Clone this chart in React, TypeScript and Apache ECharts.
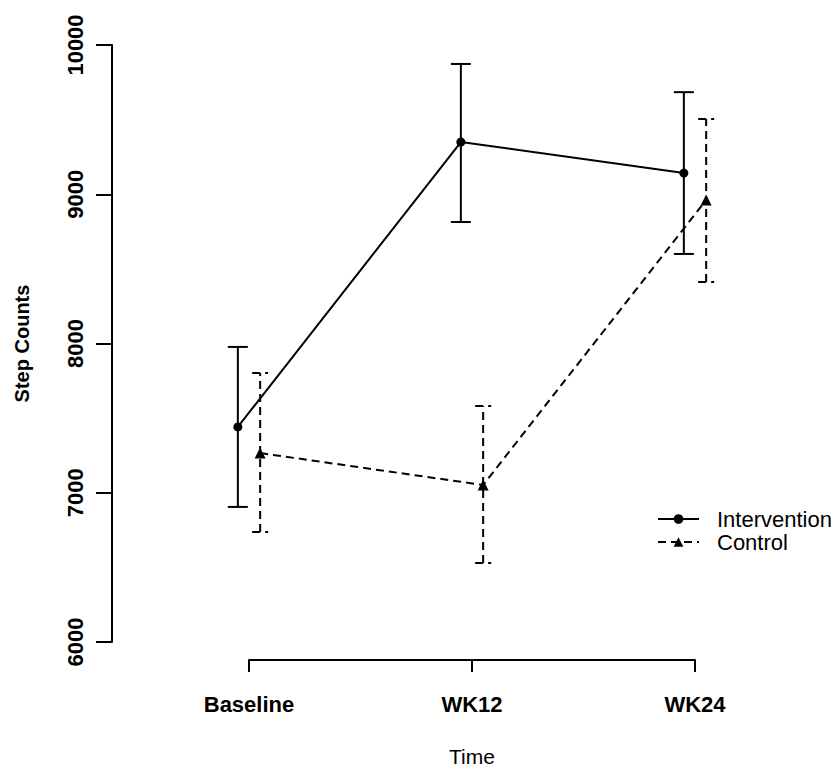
import React, { useEffect, useRef } from "react";
import * as echarts from "echarts";

const categories = ["Baseline", "WK12", "WK24"];
const interventionMean = [7441, 9350, 9142];
const interventionLower = [6905, 8814, 8600];
const interventionUpper = [7977, 9873, 9684];
const controlMean = [7266, 7052, 8961];
const controlLower = [6737, 6529, 8412];
const controlUpper = [7802, 7581, 9504];
const yTicks = { min: 6000, max: 10000, interval: 1000 };
const dodge = 0.05;

const FONT = "'Liberation Sans', Arial, sans-serif";

function errorBarSeries(name: string, pos: number[], lo: number[], hi: number[], capW: number, dash: number[] | null) {
  return {
    type: "custom",
    name,
    xAxisIndex: 0,
    yAxisIndex: 0,
    silent: true,
    encode: { x: 0, y: [1, 2] },
    data: pos.map((p, i) => [p, lo[i], hi[i]]),
    renderItem: (params: any, api: any) => {
      const x = api.value(0);
      const a = api.coord([x, api.value(1)]);
      const b = api.coord([x, api.value(2)]);
      const style: any = { stroke: "#000", lineWidth: 2, fill: "none" };
      if (dash) style.lineDash = dash;
      const h = capW / 2;
      return {
        type: "group",
        children: [
          { type: "line", shape: { x1: a[0], y1: a[1], x2: b[0], y2: b[1] }, style },
          { type: "line", shape: { x1: a[0] - h, y1: a[1], x2: a[0] + h, y2: a[1] }, style },
          { type: "line", shape: { x1: b[0] - h, y1: b[1], x2: b[0] + h, y2: b[1] }, style },
        ],
      };
    },
  };
}

export default function App() {
  const ref = useRef<HTMLDivElement>(null);
  useEffect(() => {
    if (!ref.current) return;
    const chart = echarts.init(ref.current, null, { renderer: "svg" });
    const posI = categories.map((_, i) => i + 1 - dodge);
    const posC = categories.map((_, i) => i + 1 + dodge);
    chart.setOption({
      animation: false,
      backgroundColor: "#fff",
      textStyle: { fontFamily: FONT, color: "#000" },
      grid: [
        { left: 137.5, right: 29.5, top: 45, height: 597 },
        { left: 249, right: 141, top: 45, height: 622 },
      ],
      xAxis: [
        { type: "value", gridIndex: 0, min: 0.5, max: 3.5, show: false },
        {
          type: "category",
          gridIndex: 1,
          data: categories,
          boundaryGap: false,
          axisLine: { lineStyle: { color: "#000", width: 2 } },
          axisTick: { length: 12, lineStyle: { color: "#000", width: 2 } },
          axisLabel: { fontSize: 22, fontWeight: "bold", color: "#000", margin: 33, fontFamily: FONT },
          name: "Time",
          nameLocation: "middle",
          nameGap: 86,
          nameTextStyle: { fontSize: 21, color: "#000", fontFamily: FONT },
          splitLine: { show: false },
        },
      ],
      yAxis: [
        {
          type: "value",
          gridIndex: 0,
          min: yTicks.min,
          max: yTicks.max,
          interval: yTicks.interval,
          offset: 25.5,
          axisLine: { show: true, lineStyle: { color: "#000", width: 2 } },
          axisTick: { show: true, length: 16, lineStyle: { color: "#000", width: 2 } },
          axisLabel: {
            rotate: 90,
            fontSize: 22,
            fontWeight: "bold",
            color: "#000",
            margin: 26,
            fontFamily: FONT,
            formatter: (v: number) => String(v),
          },
          splitLine: { show: false },
          name: "Step Counts",
          nameLocation: "middle",
          nameRotate: 90,
          nameGap: 80,
          nameTextStyle: { fontSize: 20, fontWeight: "bold", color: "#000", fontFamily: FONT },
        },
        { type: "value", gridIndex: 1, min: yTicks.min, max: yTicks.max, show: false },
      ],
      legend: {
        orient: "vertical",
        left: 652,
        top: 503,
        itemWidth: 41,
        itemHeight: 12,
        itemGap: 1,
        data: ["Intervention", "Control"],
        textStyle: { fontSize: 22, lineHeight: 22, color: "#000", fontFamily: FONT, padding: [0, 0, 0, 13] },
      },
      series: [
        {
          type: "line",
          name: "Intervention",
          xAxisIndex: 0,
          yAxisIndex: 0,
          data: posI.map((p, i) => [p, interventionMean[i]]),
          symbol: "circle",
          symbolSize: 9,
          itemStyle: { color: "#000" },
          lineStyle: { color: "#000", width: 2 },
        },
        {
          type: "line",
          name: "Control",
          xAxisIndex: 0,
          yAxisIndex: 0,
          data: posC.map((p, i) => [p, controlMean[i]]),
          symbol: "triangle",
          symbolSize: 11,
          itemStyle: { color: "#000" },
          lineStyle: { color: "#000", width: 2, type: [8, 5] },
        },
        errorBarSeries("Intervention SE", posI, interventionLower, interventionUpper, 20, null),
        errorBarSeries("Control SE", posC, controlLower, controlUpper, 16, [8, 5]),
      ],
    });
    return () => chart.dispose();
  }, []);
  return (
    <div
      ref={ref}
      style={{ position: "fixed", left: 0, top: 0, width: 836, height: 772, background: "#fff" }}
    />
  );
}
